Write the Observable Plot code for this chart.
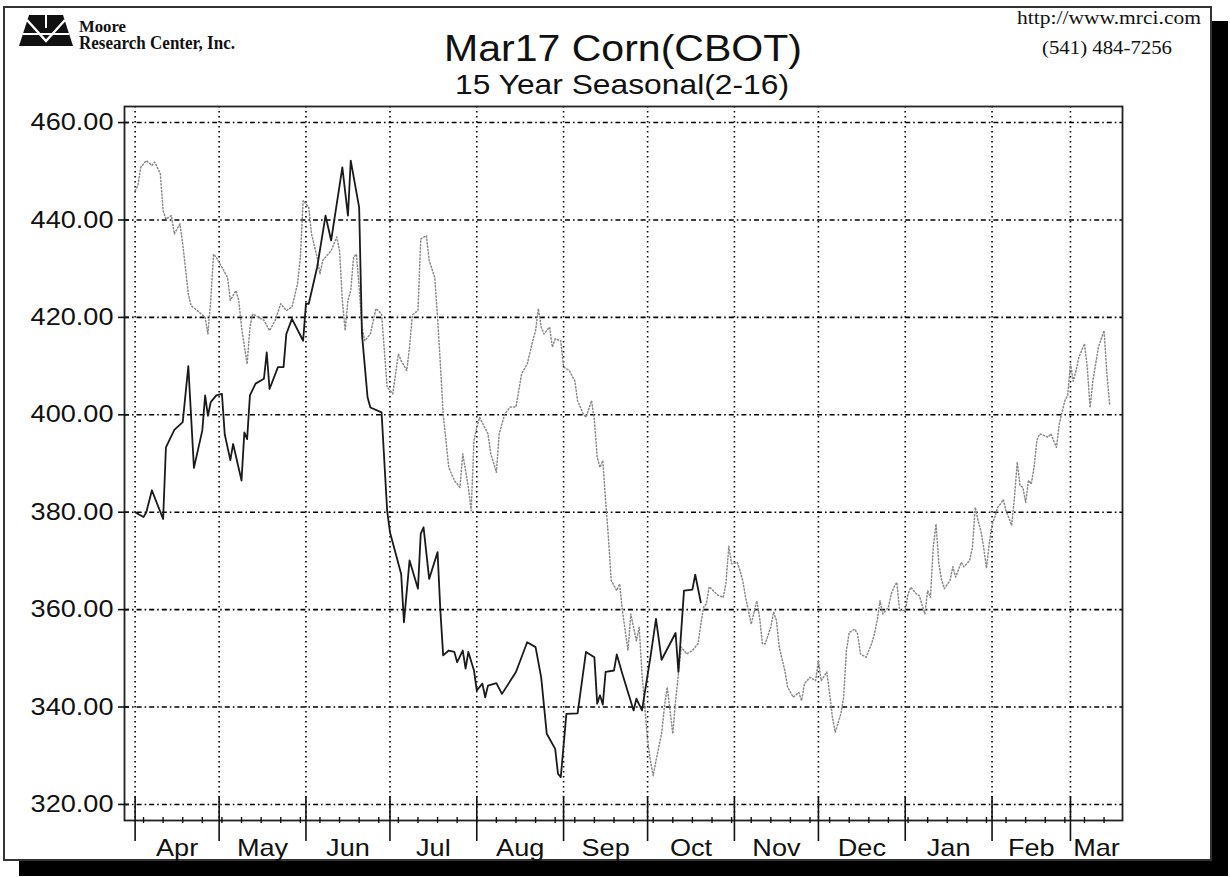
<!DOCTYPE html>
<html><head><meta charset="utf-8">
<script src="https://cdn.jsdelivr.net/npm/d3@7"></script>
<script src="https://cdn.jsdelivr.net/npm/@observablehq/plot@0.6"></script>
<style>
html,body{margin:0;padding:0;background:#fff;}
#wrap{position:relative;width:1230px;height:877px;overflow:hidden;background:#fff;}
#frame{position:absolute;left:3px;top:6px;width:1205px;height:851px;border:2px solid #333;background:#fff;box-shadow:16px 15px 0 0 #000;}
#header{position:absolute;left:0;top:0;z-index:2;}
#chart{position:absolute;left:0;top:90px;z-index:1;}
</style>
</head><body>
<div id="wrap">
  <div id="frame"></div>
  <div id="chart"></div>
  <svg id="header" width="1230" height="104" xmlns="http://www.w3.org/2000/svg">
    <g>
      <polygon points="19,46 29,15 63,15 73,46" fill="#111"/>
      <polyline points="27,20 46,41 65,20" fill="none" stroke="#fff" stroke-width="2.4"/>
      <line x1="23" y1="34" x2="69" y2="34" stroke="#fff" stroke-width="2"/>
      <line x1="46" y1="15" x2="46" y2="28" stroke="#fff" stroke-width="2"/>
    </g>
    <text x="79" y="32" font-family="Liberation Serif, Times New Roman, serif" font-weight="bold" font-size="16" textLength="47" lengthAdjust="spacingAndGlyphs" fill="#111">Moore</text>
    <text x="79" y="49" font-family="Liberation Serif, Times New Roman, serif" font-weight="bold" font-size="18" textLength="156" lengthAdjust="spacingAndGlyphs" fill="#111">Research Center, Inc.</text>
    <text x="623" y="61" text-anchor="middle" font-family="Liberation Sans, Arial, sans-serif" font-size="37" textLength="358" lengthAdjust="spacingAndGlyphs" fill="#111">Mar17 Corn(CBOT)</text>
    <text x="622" y="94" text-anchor="middle" font-family="Liberation Sans, Arial, sans-serif" font-size="28" textLength="334" lengthAdjust="spacingAndGlyphs" fill="#111">15 Year Seasonal(2-16)</text>
    <text x="1201" y="24" text-anchor="end" font-family="Liberation Serif, Times New Roman, serif" font-size="19" textLength="184" lengthAdjust="spacingAndGlyphs" fill="#111">http://www.mrci.com</text>
    <text x="1107" y="54" text-anchor="middle" font-family="Liberation Serif, Times New Roman, serif" font-size="19" textLength="130" lengthAdjust="spacingAndGlyphs" fill="#111">(541) 484-7256</text>
  </svg>
</div>
<script>
// ---- data ----
const yTicks = [320, 340, 360, 380, 400, 420, 440, 460];
const monthStarts = ["2016-04-01","2016-05-01","2016-06-01","2016-07-01","2016-08-01","2016-09-01","2016-10-01","2016-11-01","2016-12-01","2017-01-01","2017-02-01","2017-03-01"];
const monthNames = ["Apr","May","Jun","Jul","Aug","Sep","Oct","Nov","Dec","Jan","Feb","Mar"];
const xDomain = ["2016-03-28T05:00:00Z", "2017-03-19T14:00:00Z"];
const yDomain = [316.7, 463.3];

// Mar17 contract (solid)
const actual = [
["2016-04-01",380.0],["2016-04-04",379.0],["2016-04-05",380.0],["2016-04-07",384.5],["2016-04-08",383.0],
["2016-04-11",378.6],["2016-04-12",393.3],["2016-04-15",396.9],["2016-04-18",398.5],["2016-04-20",410.0],
["2016-04-22",389.1],["2016-04-25",396.8],["2016-04-26",404.0],["2016-04-27",399.8],["2016-04-28",402.6],
["2016-04-30",404.0],["2016-05-02",404.3],["2016-05-03",396.0],["2016-05-05",390.7],["2016-05-06",394.0],
["2016-05-09",386.5],["2016-05-10",396.4],["2016-05-11",395.0],["2016-05-12",404.0],["2016-05-14",406.4],
["2016-05-17",407.4],["2016-05-18",412.8],["2016-05-19",405.3],["2016-05-22",409.8],["2016-05-24",409.8],
["2016-05-25",416.6],["2016-05-27",419.7],["2016-05-31",415.2],["2016-06-01",422.8],["2016-06-02",422.8],
["2016-06-05",430.3],["2016-06-08",440.9],["2016-06-10",435.8],["2016-06-14",450.8],["2016-06-16",440.9],
["2016-06-17",452.2],["2016-06-20",442.6],["2016-06-21",416.6],["2016-06-23",403.6],["2016-06-24",401.5],
["2016-06-28",400.5],["2016-06-30",380.3],["2016-07-01",375.9],["2016-07-05",367.3],["2016-07-06",357.4],
["2016-07-08",370.1],["2016-07-11",364.3],["2016-07-12",375.6],["2016-07-13",376.9],["2016-07-15",366.3],
["2016-07-18",371.8],["2016-07-19",359.8],["2016-07-20",350.6],["2016-07-22",351.6],["2016-07-24",351.3],
["2016-07-25",349.2],["2016-07-27",351.6],["2016-07-28",347.9],["2016-07-29",351.3],["2016-07-31",347.5],
["2016-08-01",343.4],["2016-08-03",344.8],["2016-08-04",342.0],["2016-08-05",344.4],["2016-08-08",344.9],
["2016-08-10",342.7],["2016-08-15",347.2],["2016-08-19",353.3],["2016-08-22",352.3],["2016-08-24",346.1],
["2016-08-26",334.5],["2016-08-29",331.4],["2016-08-30",326.3],["2016-08-31",325.6],["2016-09-02",338.6],
["2016-09-06",338.7],["2016-09-09",351.3],["2016-09-12",350.2],["2016-09-13",340.7],["2016-09-14",342.4],
["2016-09-15",340.5],["2016-09-16",347.2],["2016-09-19",347.5],["2016-09-20",350.8],["2016-09-22",346.8],
["2016-09-26",339.3],["2016-09-27",341.7],["2016-09-29",339.3],["2016-10-02",350.2],["2016-10-04",358.1],
["2016-10-06",349.7],["2016-10-11",355.2],["2016-10-12",347.2],["2016-10-14",363.9],["2016-10-17",364.1],
["2016-10-18",367.2],["2016-10-20",361.5]
];

// 15 year seasonal (dotted)
const seasonal = [
["2016-04-01",446.0],["2016-04-02",447.1],["2016-04-03",450.8],["2016-04-05",452.2],["2016-04-07",451.2],
["2016-04-08",451.9],["2016-04-10",449.5],["2016-04-11",441.9],["2016-04-12",440.2],["2016-04-14",440.9],
["2016-04-15",437.1],["2016-04-17",439.2],["2016-04-18",435.1],["2016-04-20",424.8],["2016-04-21",422.4],
["2016-04-24",421.0],["2016-04-26",420.0],["2016-04-27",416.6],["2016-04-28",423.5],["2016-04-29",433.0],
["2016-04-30",432.3],["2016-05-02",430.3],["2016-05-04",428.2],["2016-05-05",423.5],["2016-05-07",425.5],
["2016-05-08",423.5],["2016-05-09",418.0],["2016-05-11",410.4],["2016-05-12",418.0],["2016-05-13",420.7],
["2016-05-17",419.4],["2016-05-19",417.3],["2016-05-21",419.4],["2016-05-23",422.8],["2016-05-25",421.4],
["2016-05-27",422.1],["2016-05-29",426.9],["2016-05-30",432.3],["2016-05-31",444.0],["2016-06-02",442.6],
["2016-06-03",437.1],["2016-06-05",432.3],["2016-06-06",428.9],["2016-06-07",431.7],["2016-06-10",433.7],
["2016-06-12",436.5],["2016-06-13",433.7],["2016-06-14",423.5],["2016-06-15",417.3],["2016-06-16",423.5],
["2016-06-17",425.5],["2016-06-18",432.3],["2016-06-19",433.0],["2016-06-20",426.2],["2016-06-21",418.0],
["2016-06-22",415.2],["2016-06-24",416.6],["2016-06-26",421.8],["2016-06-28",420.7],["2016-06-29",413.2],
["2016-06-30",405.7],["2016-07-02",404.3],["2016-07-04",412.5],["2016-07-05",411.1],["2016-07-07",409.1],
["2016-07-08",413.9],["2016-07-09",420.5],["2016-07-11",421.4],["2016-07-12",436.1],["2016-07-14",436.8],
["2016-07-15",431.7],["2016-07-17",428.2],["2016-07-18",420.0],["2016-07-19",410.4],["2016-07-20",400.2],
["2016-07-21",394.7],["2016-07-22",389.2],["2016-07-24",386.5],["2016-07-26",385.1],["2016-07-27",392.0],
["2016-07-29",385.1],["2016-07-30",380.3],["2016-07-31",394.7],["2016-08-01",397.4],["2016-08-02",399.5],
["2016-08-05",396.1],["2016-08-06",392.0],["2016-08-08",388.2],["2016-08-09",396.1],["2016-08-11",400.2],
["2016-08-13",401.6],["2016-08-15",401.6],["2016-08-17",408.4],["2016-08-19",410.4],["2016-08-21",415.2],
["2016-08-22",417.3],["2016-08-23",421.8],["2016-08-24",418.0],["2016-08-25",416.6],["2016-08-27",418.0],
["2016-08-28",413.9],["2016-08-29",415.6],["2016-08-31",415.2],["2016-09-01",409.8],["2016-09-03",409.1],
["2016-09-05",407.0],["2016-09-06",402.9],["2016-09-08",400.2],["2016-09-09",399.5],["2016-09-11",402.9],
["2016-09-12",398.8],["2016-09-13",391.3],["2016-09-14",389.2],["2016-09-15",390.6],["2016-09-16",382.4],
["2016-09-17",374.9],["2016-09-18",366.0],["2016-09-20",363.9],["2016-09-21",365.3],["2016-09-22",359.8],
["2016-09-23",355.7],["2016-09-24",351.6],["2016-09-25",359.1],["2016-09-27",353.6],["2016-09-28",356.4],
["2016-09-29",346.8],["2016-09-30",340.0],["2016-10-01",333.1],["2016-10-02",329.0],["2016-10-03",325.9],
["2016-10-04",329.0],["2016-10-06",334.5],["2016-10-07",340.0],["2016-10-08",344.1],["2016-10-09",339.3],
["2016-10-10",334.5],["2016-10-11",341.3],["2016-10-12",346.8],["2016-10-13",352.3],["2016-10-15",350.9],
["2016-10-17",351.6],["2016-10-19",353.0],["2016-10-20",357.0],["2016-10-21",360.5],["2016-10-22",361.2],
["2016-10-23",364.7],["2016-10-26",363.0],["2016-10-28",362.5],["2016-10-29",365.5],["2016-10-30",373.0],
["2016-10-31",369.4],["2016-11-02",369.7],["2016-11-03",368.0],["2016-11-04",365.9],["2016-11-05",362.5],
["2016-11-06",359.8],["2016-11-07",357.0],["2016-11-09",361.8],["2016-11-10",358.4],["2016-11-11",353.0],
["2016-11-12",353.0],["2016-11-14",356.4],["2016-11-15",359.5],["2016-11-16",357.8],["2016-11-17",352.3],
["2016-11-19",347.5],["2016-11-20",344.1],["2016-11-22",342.0],["2016-11-24",343.0],["2016-11-25",341.3],
["2016-11-26",344.8],["2016-11-28",346.1],["2016-11-30",345.4],["2016-12-01",349.5],["2016-12-02",345.4],
["2016-12-04",347.2],["2016-12-05",342.7],["2016-12-06",337.9],["2016-12-07",334.8],["2016-12-09",338.6],
["2016-12-10",342.0],["2016-12-11",351.6],["2016-12-12",355.3],["2016-12-14",356.0],["2016-12-15",355.0],
["2016-12-16",350.9],["2016-12-18",350.2],["2016-12-20",353.0],["2016-12-21",355.0],["2016-12-22",357.8],
["2016-12-23",361.8],["2016-12-24",359.1],["2016-12-26",360.5],["2016-12-27",363.2],["2016-12-28",364.6],
["2016-12-29",365.6],["2016-12-30",359.8],["2017-01-01",359.8],["2017-01-02",363.2],["2017-01-03",364.6],
["2017-01-05",363.2],["2017-01-06",362.9],["2017-01-08",359.1],["2017-01-09",363.9],["2017-01-10",362.5],
["2017-01-11",372.8],["2017-01-12",377.6],["2017-01-13",369.4],["2017-01-14",366.0],["2017-01-15",364.3],
["2017-01-17",366.0],["2017-01-18",368.8],["2017-01-19",366.7],["2017-01-21",369.7],["2017-01-22",368.8],
["2017-01-24",370.1],["2017-01-25",372.8],["2017-01-26",381.0],["2017-01-27",378.3],["2017-01-28",376.2],
["2017-01-29",372.8],["2017-01-30",368.5],["2017-01-31",373.5],["2017-02-01",377.5],["2017-02-02",379.0],
["2017-02-03",381.0],["2017-02-04",381.7],["2017-02-05",382.6],["2017-02-06",380.3],["2017-02-08",377.3],
["2017-02-09",383.0],["2017-02-10",390.3],["2017-02-11",385.5],["2017-02-12",385.1],["2017-02-13",382.0],
["2017-02-14",386.5],["2017-02-15",385.8],["2017-02-16",389.2],["2017-02-17",394.7],["2017-02-18",396.1],
["2017-02-21",395.4],["2017-02-22",396.1],["2017-02-24",393.3],["2017-02-25",398.1],["2017-02-27",402.9],
["2017-02-28",404.0],["2017-03-01",410.4],["2017-03-02",406.9],["2017-03-03",409.1],["2017-03-04",411.8],
["2017-03-06",414.6],["2017-03-07",409.8],["2017-03-08",401.5],["2017-03-09",407.0],["2017-03-11",413.9],
["2017-03-13",417.3],["2017-03-14",408.4],["2017-03-15",402.2]
];

// ---- build ----
const parse = s => new Date(s.length === 10 ? s + "T00:00:00Z" : s);
const actualData = actual.map(([d, v]) => ({date: parse(d), value: v}));
const seasonalData = seasonal.map(([d, v]) => ({date: parse(d), value: v}));
const monthDates = monthStarts.map(parse);
const domX = xDomain.map(parse);
const midDates = monthDates.map((d, i) => {
  const end = i + 1 < monthDates.length ? monthDates[i + 1] : domX[1];
  return new Date((+d + +end) / 2);
});
const nameByTime = new Map(midDates.map((d, i) => [+d, monthNames[i]]));

const axisFont = 24;
const chart = Plot.plot({
  width: 1200,
  height: 787,
  marginLeft: 124,
  marginRight: 78,
  marginTop: 16,
  marginBottom: 57,
  style: {background: "transparent", overflow: "visible", fontFamily: "Liberation Sans, Arial, sans-serif", color: "#111"},
  x: {type: "utc", domain: domX, label: null},
  y: {domain: yDomain, label: null},
  marks: [
    Plot.gridY(yTicks, {stroke: "#000", strokeOpacity: 1, strokeWidth: 1.6, strokeDasharray: "5,3,1.6,3"}),
    Plot.gridX(monthDates, {stroke: "#000", strokeOpacity: 1, strokeWidth: 1.6, strokeDasharray: "1.6,3.4"}),
    Plot.line(seasonalData, {x: "date", y: "value", stroke: "#888", strokeWidth: 1.5, strokeDasharray: "1.2,2.2"}),
    Plot.line(actualData, {x: "date", y: "value", stroke: "#1a1a1a", strokeWidth: 1.8, strokeLinejoin: "round"}),
    Plot.frame({stroke: "#222", strokeWidth: 1.8}),
    Plot.axisY(yTicks, {tickSize: 6, tickPadding: 5, tickFormat: d => d.toFixed(2), fontSize: axisFont, strokeWidth: 1.6, label: null}),
    Plot.axisY(yTicks, {tickSize: -5, fill: "none", strokeWidth: 1.6, label: null}),
    Plot.axisX(monthDates, {tickSize: 21, fill: "none", strokeWidth: 1.6, label: null}),
    Plot.axisX(monthDates, {tickSize: -24, fill: "none", strokeWidth: 1.6, label: null}),
    Plot.axisX({ticks: d3.utcMonday.every(1), tickSize: 3, fill: "none", strokeWidth: 1.4, label: null}),
    Plot.axisX({ticks: d3.utcMonday.every(1), tickSize: -3, fill: "none", strokeWidth: 1.4, label: null}),
    Plot.axisX(midDates, {tickSize: 0, tickPadding: 18, tickFormat: d => nameByTime.get(+d), fontSize: axisFont, label: null})
  ]
});
document.getElementById("chart").appendChild(chart);

// widen tick labels slightly (the reference lettering is horizontally stretched)
function stretch(sel, k) {
  chart.querySelectorAll(sel).forEach(t => {
    const tr = t.getAttribute("transform");
    if (tr) t.setAttribute("transform", tr + ` scale(${k},1)`);
    else {
      const x = +t.getAttribute("x") || 0, y = +t.getAttribute("y") || 0;
      t.setAttribute("transform", `translate(${x},${y}) scale(${k},1) translate(${-x},${-y})`);
    }
  });
}
stretch('g[aria-label="y-axis tick label"] text', 1.13);
stretch('g[aria-label="x-axis tick label"] text', 1.13);
</script>
</body></html>
